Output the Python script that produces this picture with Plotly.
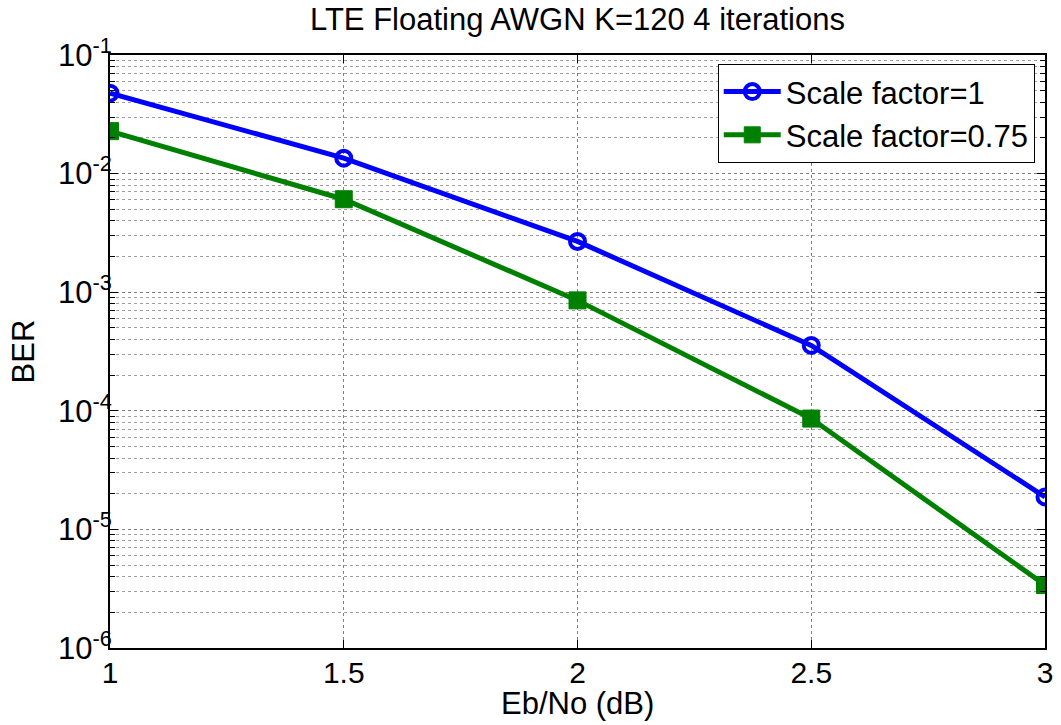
import plotly.graph_objects as go

ebno = [1, 1.5, 2, 2.5, 3]
ber_sf1 = [0.0477, 0.0135, 0.00268, 3.56e-4, 1.88e-5]
ber_sf075 = [0.0228, 0.00608, 8.53e-4, 8.6e-5, 3.4e-6]
x_ticks = [1, 1.5, 2, 2.5, 3]
x_ticktext = ["1", "1.5", "2", "2.5", "3"]
y_tickvals = [1e-6, 1e-5, 1e-4, 1e-3, 1e-2, 1e-1]
y_ticktext = ["10<sup>-6</sup>", "10<sup>-5</sup>", "10<sup>-4</sup>", "10<sup>-3</sup>", "10<sup>-2</sup>", "10<sup>-1</sup>"]
x_title = "Eb/No (dB)"
y_title = "BER"
title_text = "LTE Floating AWGN K=120 4 iterations"

fig = go.Figure()
fig.add_trace(go.Scatter(
    x=ebno, y=ber_sf1, mode="lines+markers", name="Scale factor=1",
    line=dict(color="#0000FF", width=5),
    marker=dict(symbol="circle-open", size=15, color="#0000FF", line=dict(width=4, color="#0000FF")),
))
fig.add_trace(go.Scatter(
    x=ebno, y=ber_sf075, mode="lines+markers", name="Scale factor=0.75",
    line=dict(color="#008000", width=5),
    marker=dict(symbol="square", size=17, color="#008000", line=dict(width=1, color="#008000")),
))

font = "Liberation Sans, Arial, sans-serif"
fig.update_layout(
    width=1061, height=725,
    margin=dict(l=110, r=16, t=55, b=77, autoexpand=False),
    paper_bgcolor="white", plot_bgcolor="white",
    font=dict(family=font, size=30, color="black"),
    title=dict(text=title_text, xref="paper", x=0.5, xanchor="center",
               yref="container", y=0.988, yanchor="top", font=dict(size=31, color="black", family=font)),
    showlegend=True,
    legend=dict(x=0.650, y=0.985, xanchor="left", yanchor="top",
                bgcolor="white", bordercolor="black", borderwidth=1,
                font=dict(size=31, family=font), tracegroupgap=0, itemwidth=57),
    annotations=[dict(text=x_title, xref="paper", yref="paper", x=0.5, y=0,
                      xanchor="center", yanchor="middle", yshift=-55, showarrow=False,
                      font=dict(size=31, family=font, color="black"))],
)
fig.update_xaxes(
    range=[1, 3], tickvals=x_ticks, ticktext=x_ticktext, automargin=False,
    ticklabeloverflow="allow", ticklabelstandoff=-3,
    showgrid=True, gridcolor="#808080", griddash="dot", gridwidth=1,
    showline=True, linecolor="black", linewidth=2, mirror="ticks",
    ticks="inside", ticklen=8, tickcolor="black",
    tickfont=dict(size=30), zeroline=False,
)
fig.update_yaxes(
    type="log", range=[-6, -1], tickvals=y_tickvals, ticktext=y_ticktext, automargin=False,
    ticklabeloverflow="allow",
    showgrid=True, gridcolor="#808080", griddash="dot", gridwidth=1,
    minor=dict(showgrid=True, gridcolor="#a0a0a0", griddash="dot", gridwidth=1,
               ticks="inside", ticklen=5, tickcolor="black",
               tickvals=[m * 10**e for e in range(-6, -1) for m in range(2, 10)]),
    showline=True, linecolor="black", linewidth=2, mirror="ticks",
    ticks="inside", ticklen=8, tickcolor="black",
    tickfont=dict(size=31), zeroline=False, ticklabelstandoff=-10,
    title=dict(text=y_title, font=dict(size=31), standoff=14),
)
fig.write_html("out.html", config={"displayModeBar": False},
               post_script="document.body.style.margin='0';document.body.style.overflow='hidden';")
